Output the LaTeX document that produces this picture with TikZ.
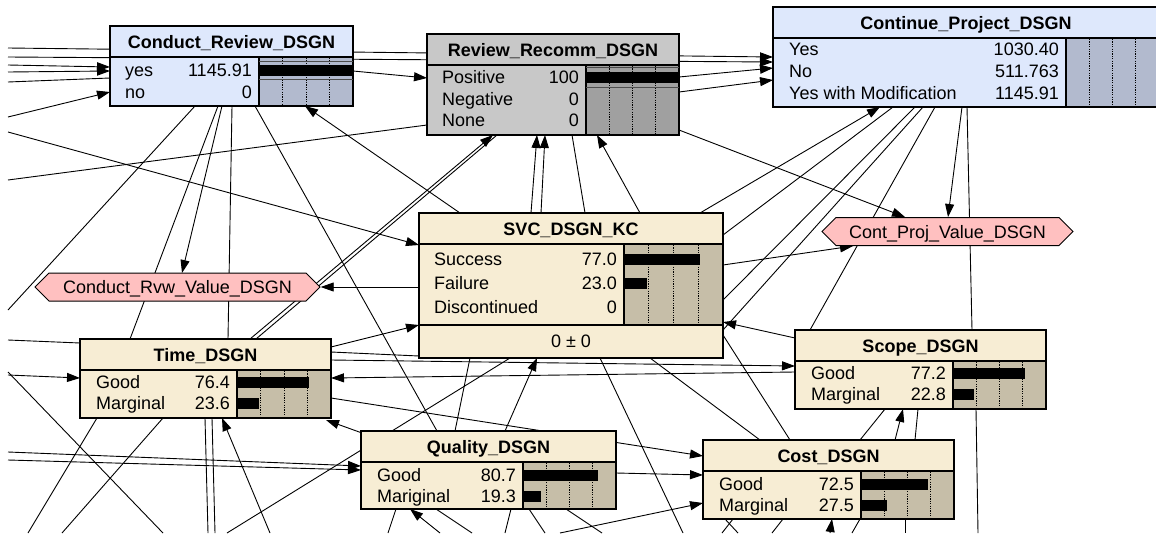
\documentclass[tikz,border=0pt]{standalone}
\usepackage{fontspec}
\setmainfont{Liberation Sans}
\usetikzlibrary{arrows.meta,shapes.symbols}

\definecolor{boxblue}{RGB}{222,232,252}
\definecolor{boxbluebar}{RGB}{178,186,206}
\definecolor{boxgrey}{RGB}{200,200,200}
\definecolor{boxgreybar}{RGB}{160,160,160}
\definecolor{boxtan}{RGB}{247,237,212}
\definecolor{boxtanbar}{RGB}{198,190,168}
\definecolor{valpink}{RGB}{255,192,192}

\pgfdeclarelayer{bg}
\pgfdeclarelayer{links}
\pgfsetlayers{bg,links,main}

\tikzset{
  bnbox/.style={draw, line width=1.2pt, inner sep=0pt, outer sep=0pt, anchor=north west},
  frame/.style={line width=1.2pt},
  ttl/.style={font=\bfseries\fontsize{18}{18}\selectfont, inner sep=0pt, text height=13pt, text depth=0pt},
  st/.style={font=\fontsize{18}{18}\selectfont, inner sep=0pt, text height=13pt, text depth=0pt, anchor=west},
  vl/.style={st, anchor=east},
  tick/.style={line width=0.8pt, dash pattern=on 1.2pt off 1.2pt},
  stripe/.style={line width=1pt, black!70},
  link/.style={line width=0.9pt, -{Triangle[length=13pt,width=9pt]}},
  wire/.style={line width=0.9pt},
  valnode/.style={signal, signal to=west and east, signal pointer angle=90, draw, line width=1pt,
    fill=valpink, inner sep=0pt, minimum height=28pt,
    font=\fontsize{18}{18}\selectfont, text height=13pt, text depth=0pt}
}

% box with title band and bar area
% #1 name, #2 colour, #3-#6 corners, #7 split x, #8 bottom of states, #9 title
\newcommand{\bnframe}[9]{%
  \node[bnbox, fill=#2, minimum width={#5pt-#3pt}, minimum height={#6pt-#4pt}] (#1) at (#3,#4) {};
  \fill[#2bar] (#7,#4+31) rectangle (#5,#8);
  \foreach \q in {0.25,0.5,0.75}
    \draw[tick] ({#7+(#5-#7)*\q},#4+32) -- ({#7+(#5-#7)*\q},#8-1);
  \draw[frame] (#3,#4+31) -- (#5,#4+31) (#7,#4+31) -- (#7,#8) (#3,#8) -- (#5,#8);
  \draw[frame] (#1.north west) rectangle (#1.south east);
  \node[ttl] (#1-title) at ({(#3+#5)/2},#4+15.5) {#9};
}

% state rows: #1 name, #2 label x, #3 split x, #4 right x, #5 first row y, #6 step, #7 list
\newcommand{\bnstates}[7]{%
  \foreach \stname/\stval/\stpc [count=\i] in {#7} {
    \pgfmathsetmacro{\ry}{#5+(\i-1)*#6}
    \node[st] (#1-s\i) at (#2,\ry) {\stname};
    \node[vl] (#1-v\i) at (#3-7,\ry) {\stval};
    \fill (#3,\ry-5.5) rectangle ({#3+(#4-#3)*\stpc/100},\ry+5.5);
  }
}

\begin{document}
\begin{tikzpicture}[x=1pt,y=-1pt]
  \useasboundingbox (0,0) rectangle (1156,536);
  \begin{pgfonlayer}{bg}
    \fill[white] (0,0) rectangle (1156,536);
  \end{pgfonlayer}

  % network nodes
  \bnframe{conduct}{boxblue}{110}{26}{353}{106}{259}{106}{Conduct\_Review\_DSGN}
  \bnframe{review}{boxgrey}{427}{34}{679}{135}{586}{135}{Review\_Recomm\_DSGN}
  \bnframe{contin}{boxblue}{773}{7}{1159}{107}{1066}{107}{Continue\_Project\_DSGN}
  \bnframe{svc}{boxtan}{419}{213}{723}{358}{624}{325}{SVC\_DSGN\_KC}
  \bnframe{time}{boxtan}{80}{339}{331}{418}{237}{418}{Time\_DSGN}
  \bnframe{scope}{boxtan}{795}{330}{1046}{409}{953}{409}{Scope\_DSGN}
  \bnframe{quality}{boxtan}{361}{431}{616}{509}{523}{509}{Quality\_DSGN}
  \bnframe{cost}{boxtan}{703}{440}{954}{519}{861}{519}{Cost\_DSGN}

  \bnstates{conduct}{125}{259}{353}{70}{21.5}{yes/1145.91/100, no/0/0}
  \bnstates{review}{442}{586}{679}{77}{21.5}{Positive/100/100, Negative/0/0, None/0/0}
  \bnstates{contin}{789}{1066}{1159}{49}{22}{Yes/1030.40/0, No/511.763/0, Yes with Modification/1145.91/0}
  \bnstates{svc}{434}{624}{723}{259}{24}{Success/77.0/77, Failure/23.0/23, Discontinued/0/0}
  \bnstates{time}{96}{237}{331}{382}{21}{Good/76.4/76.4, Marginal/23.6/23.6}
  \bnstates{scope}{811}{953}{1046}{373}{21}{Good/77.2/77.2, Marginal/22.8/22.8}
  \bnstates{quality}{377}{523}{616}{475}{21}{Good/80.7/80.7, Mariginal/19.3/19.3}
  \bnstates{cost}{719}{861}{954}{484}{21}{Good/72.5/72.5, Marginal/27.5/27.5}

  \draw[stripe] (259,61) -- (353,61) (259,79) -- (353,79);
  \draw[stripe] (586,67) -- (679,67) (586,87) -- (679,87);
  \node[st, anchor=center] (svc-mean) at (571,341) {0 ± 0};

  % utility nodes
  \node[valnode, minimum width=285pt] (condval) at (177.5,287) {Conduct\_Rvw\_Value\_DSGN};
  \node[valnode, minimum width=251pt] (contval) at (947.5,231.5) {Cont\_Proj\_Value\_DSGN};

  % free ends at the window edge
  \coordinate (lft48) at (8,48);
  \coordinate (lft57) at (8,57);
  \coordinate (lft65) at (8,65);
  \coordinate (lft72) at (8,72);
  \coordinate (lft82) at (8,82);
  \coordinate (lft117) at (8,117);
  \coordinate (lft130) at (8,132);
  \coordinate (lft180) at (8,180);
  \coordinate (lft312) at (8,310);
  \coordinate (lft340) at (8,340);
  \coordinate (lft365) at (8,372);
  \coordinate (lft375) at (8,375);
  \coordinate (lft452) at (8,452);
  \coordinate (lft460) at (8,460);
  \coordinate (bot28) at (28,533);
  \coordinate (bot60) at (62,533);
  \coordinate (bot165) at (163,533);
  \coordinate (bot208) at (208,533);
  \coordinate (bot215) at (215,533);
  \coordinate (bot225) at (227,533);
  \coordinate (bot270) at (270,533);
  \coordinate (bot390) at (388,533);
  \coordinate (bot440) at (440,533);
  \coordinate (bot470) at (472,533);
  \coordinate (bot505) at (505,533);
  \coordinate (bot545) at (545,533);
  \coordinate (bot560) at (560,533);
  \coordinate (bot600) at (602,533);
  \coordinate (bot683) at (683,533);
  \coordinate (bot722) at (722,533);
  \coordinate (bot738) at (738,533);
  \coordinate (bot770) at (772,533);
  \coordinate (bot830) at (830,533);
  \coordinate (bot852) at (852,533);
  \coordinate (bot905) at (905,533);
  \coordinate (bot978) at (978,533);

  \begin{pgfonlayer}{links}
    % from the left edge
    \draw[link] (lft48) -- ([shift={(0,50)}]contin.north west);
    \draw[link] (lft57) -- ([shift={(0,55)}]contin.north west);
    \draw[link] (lft65) -- ([shift={(0,41)}]conduct.north west);
    \draw[link] (lft72) -- ([shift={(0,45)}]conduct.north west);
    \draw[wire] (lft82) -- ([shift={(0,52)}]conduct.north west);
    \draw[link] (lft117) -- ([shift={(0,66)}]conduct.north west);
    \draw[link] (lft130) -- ([shift={(0,32)}]svc.north west);
    \draw[wire] (lft180) -- ([shift={(0,91)}]review.north west);
    \draw[link] (lft375) -- ([shift={(0,39)}]time.north west);
    \draw[wire] (lft340) -- ([shift={(0,4)}]time.north west);
    \draw[link] (lft452) -- ([shift={(0,35)}]quality.north west);
    \draw[link] (lft460) -- ([shift={(0,39)}]quality.north west);
    \draw[wire] (lft365) -- (bot165);
    % top row
    \draw[link] ([shift={(243,45)}]conduct.north west) -- ([shift={(0,44)}]review.north west);
    \draw[link] ([shift={(252,43)}]review.north west) -- ([shift={(0,61)}]contin.north west);
    \draw[link] ([shift={(252,58)}]review.north west) -- ([shift={(0,73)}]contin.north west);
    % below Conduct_Review_DSGN
    \draw[wire] ([shift={(85,80)}]conduct.north west) -- (lft312);
    \draw[wire] ([shift={(108,80)}]conduct.north west) -- ([shift={(50,0)}]time.north west);
    \draw[link] ([shift={(112,80)}]conduct.north west) -- ([shift={(4.5,-14)}]condval.center);
    \draw[wire] ([shift={(122,80)}]conduct.north west) -- ([shift={(148,0)}]time.north west);
    \draw[wire] ([shift={(145,80)}]conduct.north west) -- ([shift={(76,0)}]quality.north west);
    \draw[link] ([shift={(41,0)}]svc.north west) -- ([shift={(195,80)}]conduct.north west);
    % into Review_Recomm_DSGN
    \draw[link] ([shift={(170,0)}]time.north west) -- ([shift={(66,101)}]review.north west);
    \draw[wire] ([shift={(70,101)}]review.north west) -- ([shift={(176,0)}]time.north west);
    \draw[link] ([shift={(112,0)}]svc.north west) -- ([shift={(110,101)}]review.north west);
    \draw[link] ([shift={(122,0)}]svc.north west) -- ([shift={(118,101)}]review.north west);
    \draw[wire] ([shift={(145,101)}]review.north west) -- ([shift={(166,0)}]svc.north west);
    \draw[link] ([shift={(221,0)}]svc.north west) -- ([shift={(170,101)}]review.north west);
    % around Continue_Project_DSGN
    \draw[link] ([shift={(281,0)}]svc.north west) -- ([shift={(107,100)}]contin.north west);
    \draw[link] ([shift={(252,96)}]review.north west) -- ([shift={(-42.5,-14.5)}]contval.center);
    \draw[link] ([shift={(189,100)}]contin.north west) -- ([shift={(0.5,-14.5)}]contval.center);
    \draw[wire] ([shift={(194,100)}]contin.north west) -- ([shift={(177,0)}]scope.north west);
    \draw[wire] ([shift={(181,79)}]scope.north west) -- (bot978);
    \draw[wire] ([shift={(120,100)}]contin.north west) -- ([shift={(304,22)}]svc.north west);
    \draw[wire] ([shift={(142,100)}]contin.north west) -- ([shift={(304,87)}]svc.north west);
    \draw[wire] ([shift={(150,100)}]contin.north west) -- ([shift={(304,117)}]svc.north west);
    \draw[wire] ([shift={(15,0)}]scope.north west) -- ([shift={(162,100)}]contin.north west);
    % around SVC_DSGN_KC
    \draw[link] ([shift={(304,52)}]svc.north west) -- ([shift={(-94.5,14.5)}]contval.center);
    \draw[link] ([shift={(0,74)}]svc.north west) -- (condval.east);
    \draw[link] ([shift={(0,8)}]scope.north west) -- ([shift={(304,109)}]svc.north west);
    \draw[link] ([shift={(251,8)}]time.north west) -- ([shift={(0,112)}]svc.north west);
    \draw[wire] ([shift={(251,13)}]time.north west) -- ([shift={(0,143)}]svc.north west);
    \draw[link] ([shift={(144,0)}]quality.north west) -- ([shift={(118,145)}]svc.north west);
    \draw[wire] ([shift={(51,145)}]svc.north west) -- ([shift={(94,0)}]quality.north west);
    \draw[wire] ([shift={(181,145)}]svc.north west) -- (bot683);
    \draw[wire] ([shift={(231,145)}]svc.north west) -- ([shift={(57,0)}]cost.north west);
    \draw[wire] ([shift={(304,122)}]svc.north west) -- ([shift={(87,0)}]cost.north west);
    \draw[wire] (bot225) -- ([shift={(91,145)}]svc.north west);
    % Time_DSGN and Scope_DSGN
    \draw[link] ([shift={(0,42)}]scope.north west) -- ([shift={(251,39)}]time.north west);
    \draw[link] ([shift={(251,21)}]time.north west) -- ([shift={(0,36)}]scope.north west);
    \draw[link] ([shift={(251,59)}]time.north west) -- ([shift={(0,16)}]cost.north west);
    \draw[link] ([shift={(1,2)}]quality.north west) -- ([shift={(246,81)}]time.north west);
    \draw[link] (bot270) -- ([shift={(142,79)}]time.north west);
    \draw[wire] ([shift={(125,79)}]time.north west) -- (bot208);
    \draw[wire] ([shift={(132,79)}]time.north west) -- (bot215);
    \draw[wire] ([shift={(17,79)}]time.north west) -- (bot28);
    \draw[wire] ([shift={(83,79)}]time.north west) -- (bot60);
    % Quality_DSGN and Cost_DSGN
    \draw[link] ([shift={(255,42)}]quality.north west) -- ([shift={(0,35)}]cost.north west);
    \draw[link] (bot560) -- ([shift={(0,63)}]cost.north west);
    \draw[link] (bot440) -- ([shift={(49,78)}]quality.north west);
    \draw[wire] ([shift={(35,78)}]quality.north west) -- (bot390);
    \draw[wire] ([shift={(75,78)}]quality.north west) -- (bot470);
    \draw[wire] ([shift={(150,78)}]quality.north west) -- (bot505);
    \draw[wire] ([shift={(168,78)}]quality.north west) -- (bot545);
    \draw[wire] ([shift={(205,78)}]quality.north west) -- (bot600);
    \draw[link] ([shift={(192,0)}]cost.north west) -- ([shift={(108,79)}]scope.north west);
    \draw[wire] ([shift={(157,0)}]cost.north west) -- ([shift={(90,79)}]scope.north west);
    \draw[wire] ([shift={(212,0)}]cost.north west) -- ([shift={(123,79)}]scope.north west);
    \draw[link] (bot830) -- ([shift={(129,79)}]cost.north west);
    \draw[wire] ([shift={(80,79)}]cost.north west) -- (bot770);
    \draw[wire] ([shift={(30,79)}]cost.north west) -- (bot722);
    \draw[wire] ([shift={(22,79)}]cost.north west) -- (bot738);
    \draw[wire] ([shift={(157,79)}]cost.north west) -- (bot852);
    \draw[wire] ([shift={(202,79)}]cost.north west) -- (bot905);
  \end{pgfonlayer}
\end{tikzpicture}
\end{document}
